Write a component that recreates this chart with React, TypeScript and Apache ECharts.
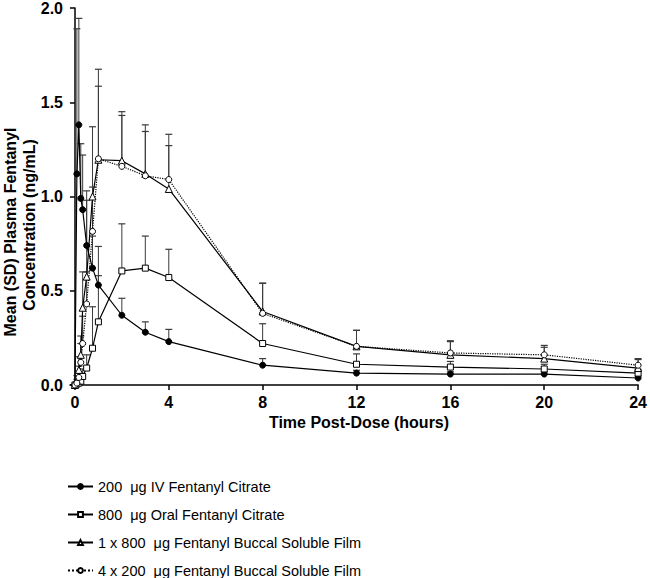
import React, { useEffect, useRef } from "react";
import * as echarts from "echarts";

const TIMES = [0, 0.083, 0.167, 0.25, 0.33, 0.5, 0.75, 1, 2, 3, 4, 8, 12, 16, 20, 24];

const IV_MEAN = [0, 1.12, 1.38, 0.99, 0.93, 0.74, 0.62, 0.53, 0.37, 0.28, 0.23, 0.105, 0.063, 0.058, 0.058, 0.037];
const IV_SD = [0, 0.77, 0.565, 0.29, 0.29, 0.24, 0.17, 0.05, 0.09, 0.055, 0.065, 0.035, 0.015, 0.012, 0.012, 0.01];

const ORAL_MEAN = [0, 0.005, 0.01, 0.02, 0.045, 0.09, 0.195, 0.335, 0.605, 0.62, 0.57, 0.22, 0.11, 0.095, 0.085, 0.063];
const ORAL_SD = [0, 0.005, 0.01, 0.02, 0.04, 0.07, 0.22, 0.4, 0.25, 0.17, 0.15, 0.105, 0.055, 0.03, 0.025, 0.02];

const FILM1_MEAN = [0, 0.02, 0.08, 0.16, 0.41, 0.575, 1.0, 1.195, 1.19, 1.12, 1.04, 0.39, 0.205, 0.16, 0.14, 0.09];
const FILM1_SD = [0, 0.03, 0.07, 0.1, 0.19, 0.455, 0.37, 0.39, 0.24, 0.225, 0.23, 0.15, 0.085, 0.07, 0.06, 0.045];

const FILM4_MEAN = [0, 0.01, 0.04, 0.12, 0.22, 0.43, 0.815, 1.2, 1.16, 1.11, 1.09, 0.38, 0.205, 0.17, 0.16, 0.105];
const FILM4_SD = [0, 0.02, 0.06, 0.1, 0.145, 0.17, 0.235, 0.475, 0.29, 0.27, 0.24, 0.16, 0.085, 0.065, 0.05, 0.035];

const X_TICKS = [0, 4, 8, 12, 16, 20, 24];

const NAMES = [
  "200  \u03bcg IV Fentanyl Citrate",
  "800  \u03bcg Oral Fentanyl Citrate",
  "1 x 800  \u03bcg Fentanyl Buccal Soluble Film",
  "4 x 200  \u03bcg Fentanyl Buccal Soluble Film",
];

const FONT = "'Liberation Sans', Arial, Helvetica, sans-serif";

export default function App() {
  const ref = useRef<HTMLDivElement>(null);

  useEffect(() => {
    document.body.style.margin = "0";
    if (!ref.current) return;
    const chart = echarts.init(ref.current, null, { renderer: "svg" });

    const groups = [
      { name: NAMES[0], mean: IV_MEAN, sd: IV_SD, symbol: "circle", fill: "#000", dash: "solid", size: 6 },
      { name: NAMES[1], mean: ORAL_MEAN, sd: ORAL_SD, symbol: "rect", fill: "#fff", dash: "solid", size: 6 },
      { name: NAMES[2], mean: FILM1_MEAN, sd: FILM1_SD, symbol: "triangle", fill: "#fff", dash: "solid", size: 7 },
      { name: NAMES[3], mean: FILM4_MEAN, sd: FILM4_SD, symbol: "circle", fill: "#fff", dash: "dotted", size: 6 },
    ];

    const errSeries = groups.map((g, gi) => ({
      type: "custom",
      name: "err" + gi,
      z: 1,
      silent: true,
      encode: { x: 0, y: 1 },
      data: TIMES.map((t, i) => [t, g.mean[i], g.sd[i]]),
      renderItem: (params: any, api: any) => {
        const t = api.value(0);
        const m = api.value(1);
        const s = api.value(2);
        if (!s) return null;
        const p0 = api.coord([t, m]);
        const p1 = api.coord([t, m + s]);
        return {
          type: "group",
          children: [
            { type: "line", shape: { x1: p0[0], y1: p0[1], x2: p1[0], y2: p1[1] }, style: { stroke: "#3a3a3a", lineWidth: 1 } },
            { type: "line", shape: { x1: p1[0] - 3.5, y1: p1[1], x2: p1[0] + 3.5, y2: p1[1] }, style: { stroke: "#3a3a3a", lineWidth: 1.2 } },
          ],
        };
      },
    }));

    const lineSeries = groups.map((g) => ({
      type: "line",
      name: g.name,
      z: 3,
      data: TIMES.map((t, i) => [t, g.mean[i]]),
      symbol: g.symbol,
      symbolSize: g.size,
      showAllSymbol: true,
      lineStyle: { color: "#000", width: 1.2, type: g.dash },
      itemStyle: { color: g.fill, borderColor: "#000", borderWidth: 1 },
      emphasis: { disabled: true },
    }));

    chart.setOption({
      animation: false,
      grid: { left: 70, right: 11, top: 7, bottom: 193, containLabel: false },
      xAxis: {
        type: "value",
        min: -0.21,
        max: 24,
        splitLine: { show: false },
        axisLine: { onZero: false, lineStyle: { color: "#000", width: 1.5 } },
        axisTick: { show: true, length: 5, customValues: X_TICKS, lineStyle: { color: "#000", width: 1.5 } },
        axisLabel: {
          customValues: X_TICKS,
          margin: 9,
          color: "#000",
          fontSize: 16,
          fontWeight: "bold",
          fontFamily: FONT,
        },
      },
      yAxis: {
        type: "value",
        min: 0,
        max: 2,
        interval: 0.5,
        splitLine: { show: false },
        axisLine: { show: true, lineStyle: { color: "#000", width: 1.5 } },
        axisTick: { show: true, length: 5, lineStyle: { color: "#000", width: 1.5 } },
        axisLabel: {
          margin: 7,
          color: "#000",
          fontSize: 16,
          fontWeight: "bold",
          fontFamily: FONT,
          formatter: (v: number) => v.toFixed(1),
        },
      },
      legend: {
        data: NAMES,
        orient: "vertical",
        left: 67,
        top: 478,
        height: 200,
        padding: 0,
        itemWidth: 25,
        itemHeight: 6,
        itemGap: 11,
        selectedMode: false,
        textStyle: { color: "#000", fontSize: 14.5, fontFamily: FONT, lineHeight: 17 },
      },
      graphic: [
        {
          type: "text",
          x: 10,
          y: 232,
          rotation: Math.PI / 2,
          style: {
            text: "Mean (SD) Plasma Fentanyl",
            fill: "#000",
            font: "bold 16px " + FONT,
            textAlign: "center",
            textVerticalAlign: "middle",
          },
        },
        {
          type: "text",
          x: 29,
          y: 225,
          rotation: Math.PI / 2,
          style: {
            text: "Concentration (ng/mL)",
            fill: "#000",
            font: "bold 16px " + FONT,
            textAlign: "center",
            textVerticalAlign: "middle",
          },
        },
        {
          type: "text",
          x: 359,
          y: 422,
          style: {
            text: "Time Post-Dose (hours)",
            fill: "#000",
            font: "bold 16px " + FONT,
            textAlign: "center",
            textVerticalAlign: "middle",
          },
        },
      ],
      series: [...errSeries, ...lineSeries],
    });

    return () => chart.dispose();
  }, []);

  return <div ref={ref} style={{ width: 650, height: 578 }} />;
}
